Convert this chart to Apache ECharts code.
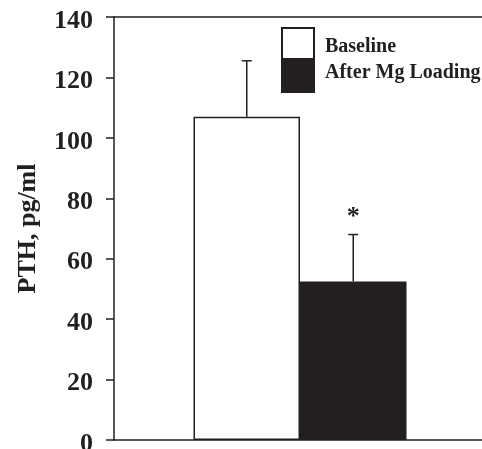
<!DOCTYPE html>
<html>
<head>
<meta charset="utf-8">
<script src="https://cdn.jsdelivr.net/npm/echarts@6/dist/echarts.min.js"></script>
<style>
html,body{margin:0;padding:0;background:#fff;}
#c{width:482px;height:449px;}
</style>
</head>
<body>
<div id="c"></div>
<script>
const seriesNames = ['Baseline', 'After Mg Loading'];
const meanValues = [107, 52.5];
const errorTops = [125.5, 68];
const significance = ['', '*'];
const yTicks = {min: 0, max: 140, interval: 20};

const INK = '#231f20';
const FONT = "'Liberation Serif', 'Times New Roman', serif";
const BAR_W = 106.5;

const chart = echarts.init(document.getElementById('c'));

const errData = meanValues.map((v, i) => [0, v, errorTops[i], i]);

const lineStyle = {color: INK, width: 1.5};
const legendText = {fontFamily: FONT, fontWeight: 'bold', fontSize: 20, lineHeight: 20, color: INK};

chart.setOption({
  animation: false,
  backgroundColor: '#fff',
  grid: {
    left: 114, top: 17, width: 372, height: 423,
    outerBoundsMode: 'none',
    containLabel: false
  },
  legend: {
    orient: 'vertical',
    left: 276, top: 22,
    itemWidth: 32, itemHeight: 31, itemGap: 0,
    icon: 'rect',
    selectedMode: false,
    formatter: function (name) {
      return (name === seriesNames[0] ? '{a|' : '{b|') + name + '}';
    },
    textStyle: {
      fontFamily: FONT, fontWeight: 'bold', fontSize: 20, color: INK,
      padding: [0, 0, 0, 6],
      rich: {
        a: Object.assign({padding: [6, 0, 0, 0]}, legendText),
        b: Object.assign({padding: [0, 0, 8, 0]}, legendText)
      }
    },
    data: seriesNames
  },
  xAxis: [
    {
      type: 'category',
      data: [''],
      axisLine: {show: true, lineStyle: lineStyle},
      axisTick: {show: false},
      axisLabel: {show: false},
      splitLine: {show: false}
    },
    {
      type: 'category',
      position: 'top',
      data: [''],
      axisLine: {show: true, onZero: false, lineStyle: lineStyle},
      axisTick: {show: false},
      axisLabel: {show: false},
      splitLine: {show: false}
    }
  ],
  yAxis: {
    type: 'value',
    min: yTicks.min, max: yTicks.max, interval: yTicks.interval,
    name: 'PTH, pg/ml',
    nameLocation: 'middle',
    nameRotate: 90,
    nameGap: 73,
    nameTextStyle: {fontFamily: FONT, fontWeight: 'bold', fontSize: 26, color: INK},
    axisLine: {show: true, lineStyle: lineStyle},
    axisTick: {show: true, inside: false, length: 8, lineStyle: lineStyle},
    axisLabel: {
      margin: 21,
      formatter: '{v|{value}}',
      rich: {
        v: {fontFamily: FONT, fontWeight: 'bold', fontSize: 26, color: INK, lineHeight: 26, padding: [8, 0, 0, 0]}
      }
    },
    splitLine: {show: false}
  },
  series: [
    {
      name: seriesNames[0], type: 'bar', barWidth: BAR_W, barGap: '0%',
      data: [meanValues[0]],
      itemStyle: {color: '#ffffff', borderColor: INK, borderWidth: 1.5}
    },
    {
      name: seriesNames[1], type: 'bar', barWidth: BAR_W, barGap: '0%',
      data: [meanValues[1]],
      itemStyle: {color: INK, borderColor: INK, borderWidth: 1.5}
    },
    {
      type: 'custom',
      z: 10,
      data: errData,
      encode: {x: 0, y: [1, 2]},
      renderItem: function (params, api) {
        const i = api.value(3);
        const base = api.coord([0, api.value(1)]);
        const top = api.coord([0, api.value(2)]);
        const x = base[0] + (i - 0.5) * BAR_W;
        const style = {stroke: INK, lineWidth: 1.5};
        const children = [
          {type: 'line', shape: {x1: x, y1: base[1], x2: x, y2: top[1]}, style: style},
          {type: 'line', shape: {x1: x - 5, y1: top[1], x2: x + 5, y2: top[1]}, style: style}
        ];
        if (significance[i]) {
          children.push({
            type: 'text',
            style: {
              text: significance[i], x: x, y: top[1] - 17,
              align: 'center', verticalAlign: 'middle',
              font: 'bold 26px ' + FONT, fill: INK
            }
          });
        }
        return {type: 'group', children: children};
      }
    }
  ]
});
</script>
</body>
</html>
